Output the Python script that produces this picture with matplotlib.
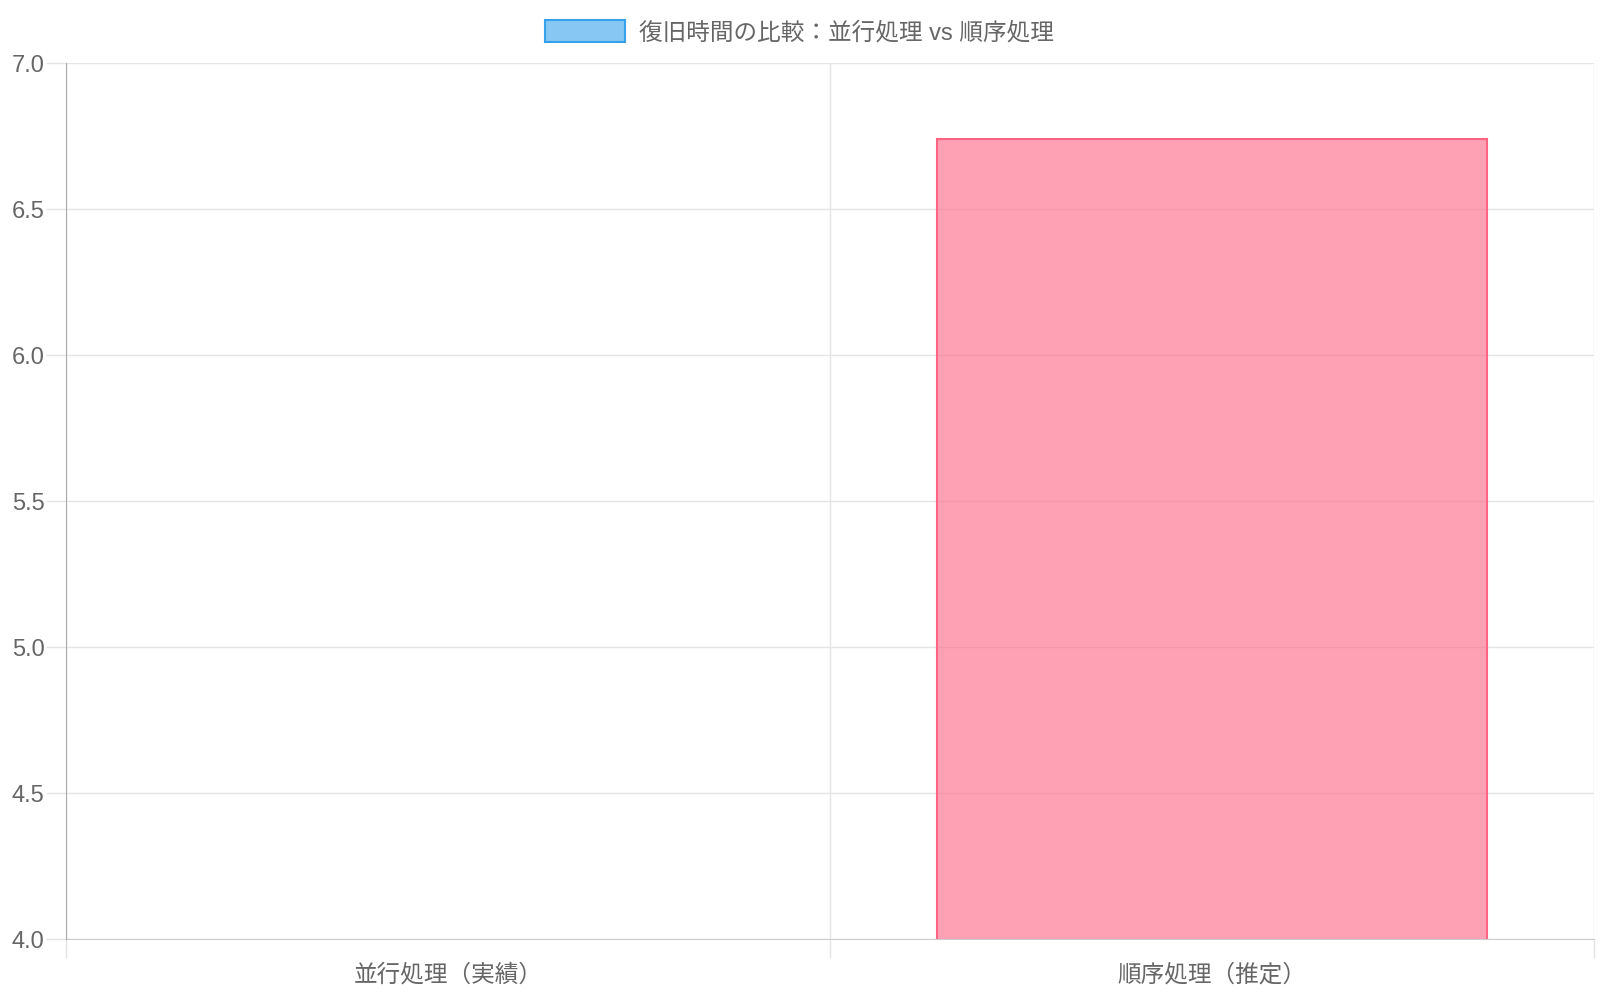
import matplotlib.pyplot as plt
from matplotlib.patches import Patch

plt.rcParams['font.family'] = ['Liberation Sans', 'Noto Sans CJK JP', 'DejaVu Sans']

# データ
categories = ['並行処理（実績）', '順序処理（推定）']
values = [2.5, 6.74]  # 並行処理は軸の下限(4.0)より下で表示されない
fill_colors = ['#36a2eb99', '#ff638499']
edge_colors = ['#36a2eb', '#ff6384']
legend_label = '復旧時間の比較：並行処理 vs 順序処理'
y_ticks = [4.0, 4.5, 5.0, 5.5, 6.0, 6.5, 7.0]

text_color = '#666666'
grid_color = '#e5e5e5'

fig = plt.figure(figsize=(16, 10), dpi=100)
ax = fig.add_axes([0.04125, 0.061, 0.955, 0.876])

x = range(len(categories))
ax.bar(x, values, width=0.72, color=fill_colors, edgecolor=edge_colors,
       linewidth=1.5, zorder=3)

ax.set_xlim(-0.5, len(categories) - 0.5)
ax.set_ylim(y_ticks[0], y_ticks[-1])

ax.set_yticks(y_ticks)
ax.set_yticklabels([f'{v:.1f}' for v in y_ticks])
ax.set_xticks(list(x))
ax.set_xticklabels(categories)
ax.set_xticks([i - 0.5 for i in range(len(categories) + 1)], minor=True)

# 長さはポイント単位 (dpi=100 -> 1pt = 1.39px)
ax.tick_params(axis='y', length=14.4, width=1, color=grid_color,
               labelsize=17, labelcolor=text_color, pad=1)
ax.tick_params(axis='x', which='major', length=0, labelsize=17,
               labelcolor=text_color, pad=18)
ax.tick_params(axis='x', which='minor', length=13.5, width=1, color=grid_color)

ax.grid(axis='y', color=grid_color, linewidth=1, zorder=0)
ax.grid(axis='x', which='minor', color=grid_color, linewidth=1, zorder=0)

for s in ['top', 'right']:
    ax.spines[s].set_visible(False)
ax.spines['left'].set_color('#aaaaaa')
ax.spines['bottom'].set_color('#cccccc')
ax.spines['left'].set_zorder(4)

handle = Patch(facecolor=fill_colors[0], edgecolor=edge_colors[0], linewidth=1.5)
fig.legend([handle], [legend_label], loc='center', bbox_to_anchor=(0.4995, 0.968),
           frameon=False, fontsize=17, labelcolor=text_color,
           handlelength=3.4, handleheight=1.1, handletextpad=0.6)

fig.savefig('out.png')
